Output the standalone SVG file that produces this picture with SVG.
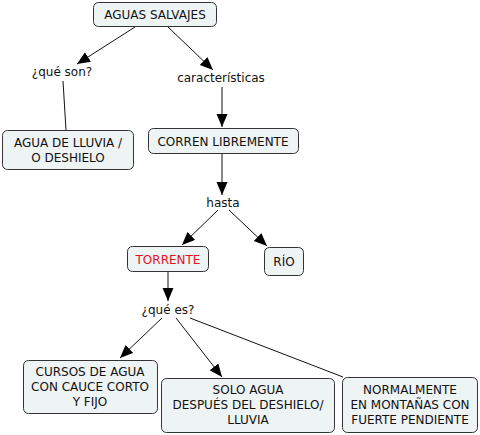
<svg xmlns="http://www.w3.org/2000/svg" width="480" height="435" viewBox="0 0 480 435">
<style>
.node rect{fill:#eef3f4;stroke:#333;stroke-width:1}
text{font-family:"DejaVu Sans",Verdana,sans-serif;font-size:12px;fill:#111;text-anchor:middle}
.red{fill:#e0141e}
.conn line{stroke:#111;stroke-width:1}
</style>
<defs>
<marker id="arr" markerUnits="userSpaceOnUse" markerWidth="14" markerHeight="12" refX="13" refY="5.5" orient="auto">
<path d="M0,0 L13,5.5 L0,11 z" fill="#000"/>
</marker>
</defs>
<rect width="480" height="435" fill="#fff"/>
<g class="conn">
<line x1="135" y1="27" x2="77" y2="64" marker-end="url(#arr)"/>
<line x1="168" y1="27" x2="213" y2="70" marker-end="url(#arr)"/>
<line x1="63" y1="81" x2="66" y2="130"/>
<line x1="222" y1="87" x2="222" y2="127" marker-end="url(#arr)"/>
<line x1="222" y1="154" x2="222" y2="195" marker-end="url(#arr)"/>
<line x1="218" y1="210" x2="182" y2="245" marker-end="url(#arr)"/>
<line x1="229" y1="210" x2="267" y2="246" marker-end="url(#arr)"/>
<line x1="168" y1="272" x2="168" y2="301" marker-end="url(#arr)"/>
<line x1="162" y1="318" x2="120" y2="358" marker-end="url(#arr)"/>
<line x1="176" y1="318" x2="222" y2="377" marker-end="url(#arr)"/>
<line x1="190" y1="318" x2="343" y2="377"/>
</g>
<g id="aguas" class="node"><rect x="93.5" y="2.5" width="123" height="24" rx="5"/><text x="155" y="18.5">AGUAS SALVAJES</text></g>
<g id="queson"><text x="62" y="76">¿qué son?</text></g>
<g id="caract"><text x="221" y="82">características</text></g>
<g id="lluvia" class="node"><rect x="2.5" y="130.5" width="131" height="39" rx="5"/><text x="68" y="147">AGUA DE LLUVIA /</text><text x="68" y="162">O DESHIELO</text></g>
<g id="corren" class="node"><rect x="148.5" y="128.5" width="150" height="25" rx="5"/><text x="223" y="145.5">CORREN LIBREMENTE</text></g>
<g id="hasta"><text x="223" y="207">hasta</text></g>
<g id="torrente" class="node"><rect x="127.5" y="246.5" width="81" height="25" rx="5"/><text class="red" x="168" y="263.5">TORRENTE</text></g>
<g id="rio" class="node"><rect x="264.5" y="247.5" width="39" height="28" rx="5"/><text x="284" y="266">RÍO</text></g>
<g id="quees"><text x="168" y="314">¿qué es?</text></g>
<g id="cursos" class="node"><rect x="23.5" y="360.5" width="134" height="53" rx="5"/><text x="90" y="376">CURSOS DE AGUA</text><text x="90" y="391">CON CAUCE CORTO</text><text x="90" y="406">Y FIJO</text></g>
<g id="solo" class="node"><rect x="161.5" y="378.5" width="173" height="54" rx="5"/><text x="248" y="394">SOLO AGUA</text><text x="248" y="409">DESPUÉS DEL DESHIELO/</text><text x="248" y="424">LLUVIA</text></g>
<g id="normal" class="node"><rect x="342.5" y="377.5" width="135" height="55" rx="5"/><text x="410" y="394">NORMALMENTE</text><text x="410" y="409">EN MONTAÑAS CON</text><text x="410" y="424">FUERTE PENDIENTE</text></g>
</svg>
